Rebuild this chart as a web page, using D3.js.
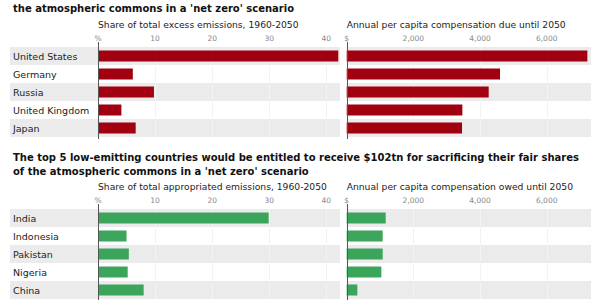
<!DOCTYPE html>
<html>
<head>
<meta charset="utf-8">
<script src="https://cdn.jsdelivr.net/npm/d3@7"></script>
<style>
  body { margin: 0; background: #fff; }
  svg { display: block; font-family: "DejaVu Sans", Verdana, sans-serif; }
</style>
</head>
<body>
<svg id="chart" width="600" height="300"></svg>
<script>
// data
const topCountries = ["United States", "Germany", "Russia", "United Kingdom", "Japan"];
const topShare = [42.1, 6.1, 9.8, 4.1, 6.6];
const topComp = [7220, 4600, 4260, 3470, 3460];

const lowCountries = ["India", "Indonesia", "Pakistan", "Nigeria", "China"];
const lowShare = [29.9, 5.0, 5.4, 5.2, 8.0];
const lowComp = [1170, 1080, 1080, 1040, 320];

const shareTicks = [0, 10, 20, 30, 40];
const compTicks = [0, 2000, 4000, 6000];

const svg = d3.select("#chart");

const xShare = d3.scaleLinear().domain([0, 40]).range([98, 326.3]);
const xComp = d3.scaleLinear().domain([0, 6000]).range([346.7, 546.7]);

function title(lines, y) {
  svg.append("text")
    .attr("x", 13)
    .attr("y", y)
    .style("font-size", "10px")
    .style("font-weight", 700)
    .style("fill", "#111")
    .selectAll("tspan")
    .data(lines)
    .enter()
    .append("tspan")
    .attr("x", 13)
    .attr("dy", (d, i) => i ? 14 : 0)
    .text(d => d);
}

function panel(opts) {
  const g = svg.append("g");
  const y = d3.scaleBand().domain(opts.countries).range([opts.top, opts.top + 90]);
  const rows = opts.countries.map((c, i) => ({ c, share: opts.share[i], comp: opts.comp[i], i }));

  // stripes
  [[10, 340], [xComp(0), 591]].forEach(([x0, x1]) => {
    g.selectAll(null)
      .data(rows.filter(d => d.i % 2 === 0))
      .enter()
      .append("rect")
      .attr("x", x0)
      .attr("width", x1 - x0)
      .attr("y", d => y(d.c))
      .attr("height", y.bandwidth())
      .style("fill", "#ebebeb");
  });

  // gridlines
  const grid = (scale, ticks) => g.selectAll(null)
    .data(ticks.slice(1))
    .enter()
    .append("line")
    .attr("x1", d => Math.round(scale(d)) + 0.5)
    .attr("x2", d => Math.round(scale(d)) + 0.5)
    .attr("y1", opts.top)
    .attr("y2", opts.top + 90)
    .style("stroke", "#f3f3f3");
  grid(xShare, shareTicks);
  grid(xComp, compTicks);

  // subtitles
  g.append("text").attr("x", xShare(0)).attr("y", opts.top - 19.5)
    .text(opts.sub1).style("font-size", "9.2px").style("fill", "#222");
  g.append("text").attr("x", xComp(0)).attr("y", opts.top - 19.5)
    .text(opts.sub2).style("font-size", "9.2px").style("fill", "#222");

  // tick labels
  const tickLabels = (scale, ticks, zero) => g.selectAll(null)
    .data(ticks)
    .enter()
    .append("text")
    .attr("x", d => scale(d))
    .attr("y", opts.top - 6)
    .attr("text-anchor", "middle")
    .style("font-size", "7.5px")
    .style("fill", "#888")
    .text(d => d === 0 ? zero : d3.format(",")(d));
  tickLabels(xShare, shareTicks, "%");
  tickLabels(xComp, compTicks, "$");

  // country labels
  g.selectAll(null)
    .data(rows)
    .enter()
    .append("text")
    .attr("x", 13)
    .attr("y", d => y(d.c) + y.bandwidth() / 2 + 3.5)
    .style("font-size", "9.5px")
    .style("fill", "#222")
    .text(d => d.c);

  // bars
  const bars = (scale, key) => g.selectAll(null)
    .data(rows)
    .enter()
    .append("rect")
    .attr("x", scale(0))
    .attr("y", d => y(d.c) + (y.bandwidth() - 11) / 2)
    .attr("height", 11)
    .attr("width", d => scale(d[key]) - scale(0))
    .style("fill", opts.color);
  bars(xShare, "share");
  bars(xComp, "comp");

  // zero axis lines
  [xShare(0), xComp(0)].forEach(x => {
    g.append("line")
      .attr("x1", Math.round(x) + 0.5).attr("x2", Math.round(x) + 0.5)
      .attr("y1", opts.top - 5).attr("y2", opts.top + 92)
      .style("stroke", "#555");
  });
}

title([
  "The top 5 high-emitting countries would be liable to pay $170tn for overappropriating their fair shares of",
  "the atmospheric commons in a 'net zero' scenario"
], -2);

panel({
  countries: topCountries, share: topShare, comp: topComp,
  top: 47, color: "#a00010",
  sub1: "Share of total excess emissions, 1960-2050",
  sub2: "Annual per capita compensation due until 2050"
});

title([
  "The top 5 low-emitting countries would be entitled to receive $102tn for sacrificing their fair shares",
  "of the atmospheric commons in a 'net zero' scenario"
], 161);

panel({
  countries: lowCountries, share: lowShare, comp: lowComp,
  top: 209, color: "#3ba55c",
  sub1: "Share of total appropriated emissions, 1960-2050",
  sub2: "Annual per capita compensation owed until 2050"
});
</script>
</body>
</html>
